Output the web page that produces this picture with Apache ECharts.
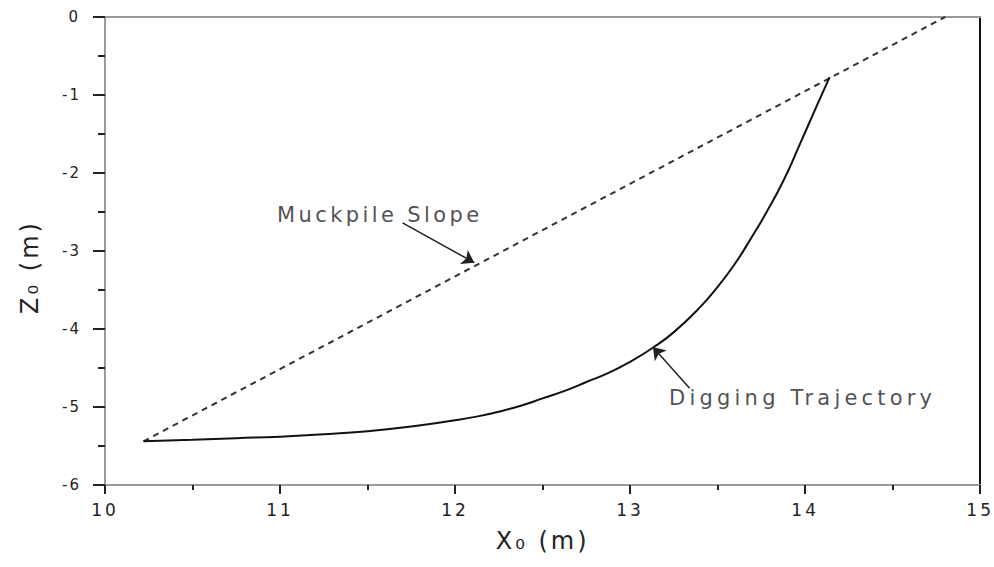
<!DOCTYPE html>
<html>
<head>
<meta charset="utf-8">
<script src="https://cdn.jsdelivr.net/npm/echarts@6/dist/echarts.min.js"></script>
<style>
html,body{margin:0;padding:0;background:#fff;}
#chart{width:994px;height:567px;}
</style>
</head>
<body>
<div id="chart"></div>
<script>
// ---- data ----
var trajX = [10.22, 10.50, 10.75, 11.00, 11.25, 11.50, 11.75, 12.00, 12.13, 12.25, 12.38, 12.50, 12.63, 12.75, 12.88, 13.00, 13.13, 13.25, 13.40, 13.50, 13.60, 13.69, 13.78, 13.88, 13.97, 14.07, 14.14];
var trajZ = [-5.44, -5.42, -5.40, -5.38, -5.35, -5.31, -5.25, -5.17, -5.12, -5.06, -4.98, -4.89, -4.79, -4.68, -4.56, -4.42, -4.24, -4.04, -3.72, -3.46, -3.16, -2.84, -2.50, -2.08, -1.63, -1.12, -0.77];
var slopeX = [10.22, 14.80];
var slopeZ = [-5.44, 0.00];
var xTicks = [10, 11, 12, 13, 14, 15];
var zTicks = [-6, -5, -4, -3, -2, -1, 0];
var xName = 'X\u2080 (m)';
var zName = 'Z\u2080 (m)';
var labelTexts = ['Muckpile Slope', 'Digging Trajectory'];
var labelX = [10.98, 13.22];
var labelZ = [-2.54, -4.89];
var arrowFromX = [11.70, 13.34];
var arrowFromZ = [-2.64, -4.76];
var arrowToX = [12.11, 13.13];
var arrowToZ = [-3.15, -4.23];

var FONT = 'DejaVu Sans';
function zip(a, b) { return a.map(function (v, i) { return [v, b[i]]; }); }

var chart = echarts.init(document.getElementById('chart'), null, { renderer: 'svg' });

var option = {
  animation: false,
  backgroundColor: '#fff',
  grid: { left: 105, right: 13, top: 17, bottom: 82, containLabel: false },
  xAxis: [{
    type: 'value', position: 'bottom',
    min: xTicks[0], max: xTicks[xTicks.length - 1], interval: 1,
    axisLine: { show: true, onZero: false, lineStyle: { color: '#999', width: 2 } },
    axisTick: { show: true, length: 9, lineStyle: { color: '#222', width: 2 } },
    minorTick: { show: true, splitNumber: 2, length: 5, lineStyle: { color: '#222', width: 2 } },
    axisLabel: { margin: 16, fontSize: 17, fontFamily: FONT, color: '#222' },
    splitLine: { show: false },
    name: xName,
    nameLocation: 'middle', nameGap: 44,
    nameTextStyle: { fontSize: 24, fontFamily: FONT, color: '#222' }
  }, {
    type: 'value', position: 'top',
    min: xTicks[0], max: xTicks[xTicks.length - 1], interval: 1,
    axisLine: { show: true, onZero: false, lineStyle: { color: '#999', width: 2 } },
    axisTick: { show: false }, axisLabel: { show: false }, splitLine: { show: false }
  }],
  yAxis: [{
    type: 'value', position: 'left',
    min: zTicks[0], max: zTicks[zTicks.length - 1], interval: 1,
    axisLine: { show: true, onZero: false, lineStyle: { color: '#999', width: 2 } },
    axisTick: { show: true, length: 12, lineStyle: { color: '#222', width: 2 } },
    minorTick: { show: true, splitNumber: 2, length: 7, lineStyle: { color: '#222', width: 2 } },
    axisLabel: { margin: 24, fontSize: 15, fontFamily: FONT, color: '#222' },
    splitLine: { show: false },
    name: zName,
    nameLocation: 'middle', nameRotate: 90, nameGap: 63,
    nameTextStyle: { fontSize: 24, fontFamily: FONT, color: '#222', padding: [0, 32, 0, 0] }
  }, {
    type: 'value', position: 'right',
    min: zTicks[0], max: zTicks[zTicks.length - 1], interval: 1,
    axisLine: { show: true, onZero: false, lineStyle: { color: '#111', width: 2 } },
    axisTick: { show: false }, axisLabel: { show: false }, splitLine: { show: false }
  }],
  series: [{
    name: 'Digging Trajectory',
    type: 'line', xAxisIndex: 0, yAxisIndex: 0,
    data: zip(trajX, trajZ),
    smooth: 0.5, showSymbol: false, symbol: 'none',
    lineStyle: { color: '#111', width: 2 },
    z: 3
  }, {
    name: 'Muckpile Slope',
    type: 'line', xAxisIndex: 0, yAxisIndex: 0,
    data: zip(slopeX, slopeZ),
    showSymbol: false, symbol: 'none',
    lineStyle: { color: '#333', width: 2, type: [6, 5] },
    markLine: {
      silent: true, animation: false,
      symbol: ['none', 'arrow'], symbolSize: 12,
      label: { show: false },
      lineStyle: { color: '#222', width: 1.5, type: 'solid' },
      data: arrowFromX.map(function (v, i) {
        return [{ coord: [v, arrowFromZ[i]] }, { coord: [arrowToX[i], arrowToZ[i]] }];
      })
    },
    z: 2
  }, {
    name: 'labels',
    type: 'scatter', xAxisIndex: 0, yAxisIndex: 0,
    data: labelX.map(function (v, i) { return [v, labelZ[i], labelTexts[i]]; }),
    symbolSize: 1, itemStyle: { color: 'rgba(0,0,0,0)' }, silent: true,
    label: {
      show: true, position: 'right', distance: 0,
      formatter: function (p) { return p.value[2]; },
      fontSize: 21, fontFamily: FONT, color: '#222'
    },
    z: 4
  }]
};
chart.setOption(option);

var spacing = { 'Muckpile Slope': '3.4px', 'Digging Trajectory': '4.2px' };
function applySpacing() {
  var texts = document.querySelectorAll('#chart svg text');
  texts.forEach(function (t) {
    var s = t.textContent;
    if (spacing[s]) t.style.letterSpacing = spacing[s];
    else if (/^-?\d+$/.test(s)) t.style.letterSpacing = (s.indexOf('-') === 0 ? '2px' : '3px');
    else t.style.letterSpacing = '3px';
  });
}
applySpacing();
chart.on('finished', applySpacing);
setTimeout(applySpacing, 50);
</script>
</body>
</html>
